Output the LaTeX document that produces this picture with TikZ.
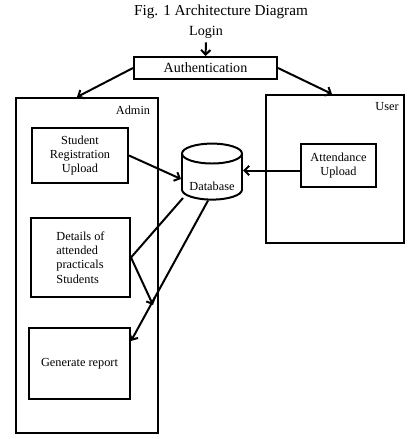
\documentclass[tikz,border=0pt]{standalone}
\usepackage{fontspec}
\setmainfont{Liberation Serif}
\usetikzlibrary{arrows.meta, shapes.geometric, positioning, calc}

\begin{document}
\begin{tikzpicture}[
    x=0.03cm, y=-0.03cm,
    box/.style={rectangle, draw=black, line width=1.7pt, fill=white, inner sep=2pt},
    dbshape/.style={cylinder, shape border rotate=90, aspect=0.4, draw=black,
                    line width=1.7pt, fill=white, inner sep=2pt, text height=0.68cm},
    arrow/.style={-{Straight Barb[length=4pt, width=8pt]}, line width=1.7pt},
    bigfont/.style={font=\fontsize{12}{14}\selectfont},
    every node/.style={font=\fontsize{10.5}{12.3}\selectfont}
]
\useasboundingbox (0,0) rectangle (416,439);
\node[font=\fontsize{13}{15}\selectfont] (title) at (221,12) {Fig. 1 Architecture Diagram};
\node[bigfont] (login) at (206,32) {Login};
\node[box, bigfont, minimum width=4.29cm, minimum height=0.66cm] (auth) at (205.5,68) {Authentication};
\node[box, minimum width=4.26cm, minimum height=10.05cm] (admin) at (87,265.5) {};
\node (admintag) at (133,110) {Admin};
\node[box, minimum width=4.14cm, minimum height=4.44cm] (user) at (335,169) {};
\node (usertag) at (387,107) {User};
\node[box, align=center, minimum width=2.88cm, minimum height=1.65cm] (stureg) at (80,155.5) {Student\\Registration\\Upload};
\node[box, align=left, minimum width=2.97cm, minimum height=2.37cm] (details) at (80.5,257.5) {Details of\\attended\\practicals\\Students};
\node[box, minimum width=3.03cm, minimum height=2.13cm] (genrep) at (79.5,363.5) {Generate report};
\node[box, align=center, minimum width=2.25cm, minimum height=1.29cm] (attend) at (338.5,165.5) {Attendance\\Upload};
\node[dbshape, minimum width=1.8cm, minimum height=1.68cm] (db) at (212,179) {Database};
\draw[arrow] (login) -- (auth);
\draw[arrow] (auth.west) -- ([xshift=-0.3cm]admin.north);
\draw[arrow] (auth.east) -- ([xshift=-0.09cm]user.north);
\draw[arrow] (stureg.east) -- (db.west);
\coordinate (attin) at ([yshift=-0.15cm]attend.west);
\draw[arrow] (attin) -- (attin -| db.east);
\coordinate (dbleft) at ($(db.center)+(-29,19)$);
\coordinate (dtip) at (153,305);
\draw[arrow] (dbleft) -- (details.east) -- (dtip);
\draw[arrow] ($(db.south)+(-4,0)$) -- ([yshift=-0.42cm]genrep.north east);
\end{tikzpicture}
\end{document}
